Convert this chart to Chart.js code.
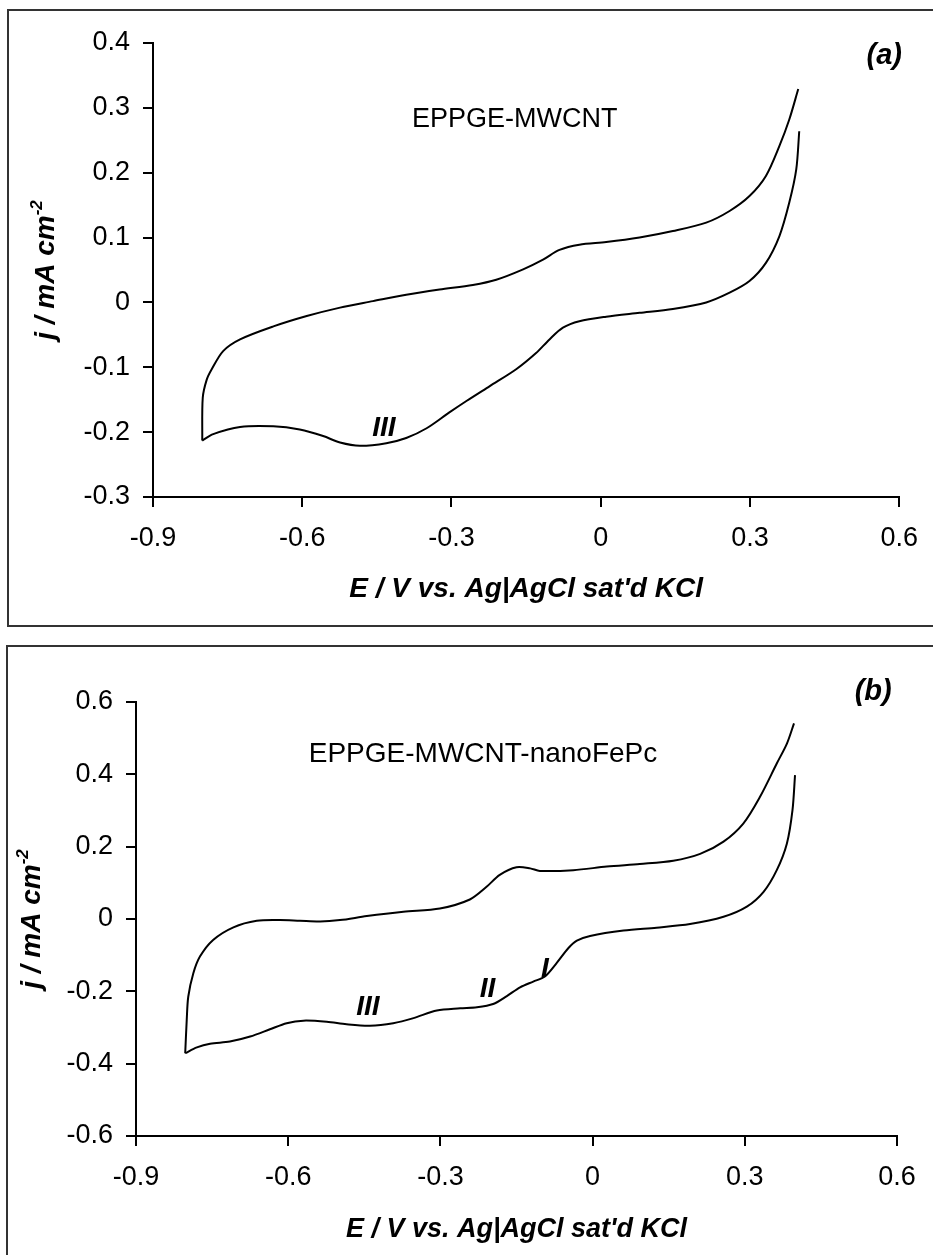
<!DOCTYPE html>
<html>
<head>
<meta charset="utf-8">
<script src="https://cdn.jsdelivr.net/npm/chart.js@4.4.1/dist/chart.umd.min.js"></script>
<style>
html, body { margin: 0; padding: 0; background: #fff; }
body { width: 933px; height: 1255px; position: relative; overflow: hidden; }
.frame { position: absolute; border: 2px solid #333; box-sizing: border-box; }
canvas { position: absolute; left: 0; }
</style>
</head>
<body>
<div class="frame" style="left:7px;top:9px;width:960px;height:618px"></div>
<div class="frame" style="left:6px;top:645px;width:960px;height:640px"></div>
<canvas id="cvA" width="933" height="636" style="top:0"></canvas>
<canvas id="cvB" width="933" height="619" style="top:636px"></canvas>
<script>
const FONT = "'Liberation Sans', Arial, sans-serif";

// panel (a) EPPGE-MWCNT
const aXTicks = [-0.9, -0.6, -0.3, 0, 0.3, 0.6];
const aYTicks = [-0.3, -0.2, -0.1, 0, 0.1, 0.2, 0.3, 0.4];
const aAnodicE = [-0.801, -0.800, -0.792, -0.782, -0.759, -0.725, -0.658, -0.591, -0.524, -0.458, -0.391, -0.324, -0.257, -0.210, -0.156, -0.116, -0.083, -0.043, 0.011, 0.078, 0.145, 0.212, 0.259, 0.299, 0.332, 0.359, 0.379, 0.397];
const aAnodicJ = [-0.213, -0.147, -0.119, -0.103, -0.075, -0.057, -0.037, -0.021, -0.008, 0.002, 0.012, 0.020, 0.027, 0.035, 0.051, 0.066, 0.081, 0.089, 0.093, 0.100, 0.110, 0.123, 0.141, 0.164, 0.195, 0.241, 0.282, 0.329];
const aCathodicE = [-0.801, -0.779, -0.725, -0.658, -0.605, -0.558, -0.524, -0.484, -0.431, -0.391, -0.350, -0.305, -0.270, -0.223, -0.170, -0.130, -0.103, -0.076, -0.043, 0.011, 0.078, 0.145, 0.212, 0.259, 0.299, 0.332, 0.359, 0.379, 0.393, 0.399];
const aCathodicJ = [-0.213, -0.203, -0.192, -0.191, -0.196, -0.206, -0.216, -0.221, -0.217, -0.209, -0.194, -0.170, -0.152, -0.129, -0.103, -0.078, -0.057, -0.039, -0.029, -0.022, -0.016, -0.010, 0.000, 0.015, 0.033, 0.061, 0.102, 0.154, 0.205, 0.264];

// panel (b) EPPGE-MWCNT-nanoFePc
const bXTicks = [-0.9, -0.6, -0.3, 0, 0.3, 0.6];
const bYTicks = [-0.6, -0.4, -0.2, 0, 0.2, 0.4, 0.6];
const bAnodicE = [-0.803, -0.800, -0.797, -0.787, -0.774, -0.748, -0.708, -0.662, -0.616, -0.577, -0.537, -0.498, -0.445, -0.373, -0.301, -0.242, -0.209, -0.183, -0.150, -0.123, -0.104, -0.038, 0.028, 0.093, 0.159, 0.212, 0.258, 0.297, 0.330, 0.363, 0.383, 0.397];
const bAnodicJ = [-0.371, -0.279, -0.215, -0.150, -0.104, -0.058, -0.023, -0.005, -0.003, -0.005, -0.007, -0.003, 0.008, 0.020, 0.029, 0.054, 0.089, 0.122, 0.143, 0.140, 0.133, 0.135, 0.145, 0.152, 0.161, 0.180, 0.214, 0.264, 0.338, 0.430, 0.485, 0.541];
const bCathodicE = [-0.803, -0.780, -0.754, -0.715, -0.675, -0.636, -0.603, -0.570, -0.524, -0.485, -0.439, -0.393, -0.353, -0.307, -0.261, -0.228, -0.196, -0.169, -0.143, -0.117, -0.094, -0.071, -0.048, -0.031, -0.005, 0.061, 0.126, 0.192, 0.258, 0.304, 0.337, 0.363, 0.383, 0.394, 0.399];
const bCathodicJ = [-0.371, -0.355, -0.345, -0.339, -0.325, -0.305, -0.288, -0.281, -0.284, -0.291, -0.295, -0.288, -0.274, -0.253, -0.247, -0.244, -0.235, -0.213, -0.189, -0.173, -0.159, -0.122, -0.081, -0.060, -0.047, -0.032, -0.024, -0.014, 0.006, 0.034, 0.075, 0.135, 0.209, 0.301, 0.398];

const xTitle = "E / V vs. Ag|AgCl sat'd KCl";

function points(xs, ys) {
    return xs.map((x, i) => ({ x: x, y: ys[i] }));
}

const panelText = {
    id: "panelText",
    afterDraw(chart, args, opts) {
        const ctx = chart.ctx, area = chart.chartArea;
        const sx = chart.scales.x, sy = chart.scales.y;
        ctx.save();
        ctx.fillStyle = "#000";
        ctx.textAlign = "center";
        ctx.textBaseline = "alphabetic";
        opts.labels.forEach(l => {
            ctx.font = l.font;
            ctx.fillText(l.text, sx.getPixelForValue(l.x), sy.getPixelForValue(l.y));
        });

        ctx.font = opts.titleFont;
        ctx.fillText(xTitle, (area.left + area.right) / 2, area.bottom + opts.xTitleOffset);

        // y title with superscript
        const size = opts.titleSize;
        const yFont = "italic bold " + size + "px " + FONT;
        const supFont = "italic bold " + Math.round(size * 0.62) + "px " + FONT;
        const main = "j / mA cm", sup = "-2";
        ctx.font = yFont;
        const w1 = ctx.measureText(main).width;
        ctx.font = supFont;
        const w2 = ctx.measureText(sup).width;
        ctx.translate(area.left - opts.yTitleOffset, (area.top + area.bottom) / 2);
        ctx.rotate(-Math.PI / 2);
        ctx.textAlign = "left";
        ctx.font = yFont;
        ctx.fillText(main, -(w1 + w2) / 2, 0);
        ctx.font = supFont;
        ctx.fillText(sup, -(w1 + w2) / 2 + w1, -size * 0.42);
        ctx.restore();
    }
};

function axis(min, max, ticks, pad, fixed, horizontal) {
    return {
        type: "linear",
        min: min,
        max: max,
        afterBuildTicks: s => { s.ticks = ticks.map(v => ({ value: v })); },
        afterFit: s => { if (horizontal) s.height = fixed; else s.width = fixed; },
        ticks: {
            autoSkip: false,
            color: "#000",
            padding: pad,
            font: { family: FONT, size: 27 },
            callback: v => String(v)
        },
        grid: { drawOnChartArea: false, drawTicks: true, tickLength: 10, color: "#000", lineWidth: 2 },
        border: { display: true, color: "#000", width: 2 }
    };
}

function curve(xs, ys) {
    return { data: points(xs, ys), borderColor: "#000", borderWidth: 2, pointRadius: 0, tension: 0.3, fill: false };
}

function makeChart(id, sets, xTicks, yTicks, yMin, yMax, padding, text) {
    return new Chart(document.getElementById(id), {
        type: "line",
        data: { datasets: sets },
        options: {
            responsive: false,
            animation: false,
            layout: { padding: padding },
            plugins: { legend: { display: false }, tooltip: { enabled: false }, panelText: text },
            scales: {
                x: axis(-0.9, 0.6, xTicks, 15, 80, true),
                y: axis(yMin, yMax, yTicks, 13, 100, false)
            }
        },
        plugins: [panelText]
    });
}

makeChart("cvA",
    [curve(aAnodicE, aAnodicJ), curve(aCathodicE, aCathodicJ)],
    aXTicks, aYTicks, -0.3, 0.4,
    { left: 53, right: 33, top: 43, bottom: 59 },
    {
        titleFont: "italic bold 28px " + FONT,
        titleSize: 28,
        xTitleOffset: 100,
        yTitleOffset: 99,
        labels: [
            { text: "EPPGE-MWCNT", x: -0.173, y: 0.271, font: "27px " + FONT },
            { text: "III", x: -0.436, y: -0.206, font: "italic bold 28px " + FONT },
            { text: "(a)", x: 0.570, y: 0.367, font: "italic bold 29px " + FONT }
        ]
    });

makeChart("cvB",
    [curve(bAnodicE, bAnodicJ), curve(bCathodicE, bCathodicJ)],
    bXTicks, bYTicks, -0.6, 0.6,
    { left: 36, right: 36, top: 66, bottom: 39 },
    {
        titleFont: "italic bold 27px " + FONT,
        titleSize: 28,
        xTitleOffset: 101,
        yTitleOffset: 96,
        labels: [
            { text: "EPPGE-MWCNT-nanoFePc", x: -0.216, y: 0.434, font: "28px " + FONT },
            { text: "III", x: -0.443, y: -0.265, font: "italic bold 28px " + FONT },
            { text: "II", x: -0.207, y: -0.215, font: "italic bold 28px " + FONT },
            { text: "I", x: -0.094, y: -0.159, font: "italic bold 28px " + FONT },
            { text: "(b)", x: 0.553, y: 0.605, font: "italic bold 29px " + FONT }
        ]
    });
</script>
</body>
</html>
